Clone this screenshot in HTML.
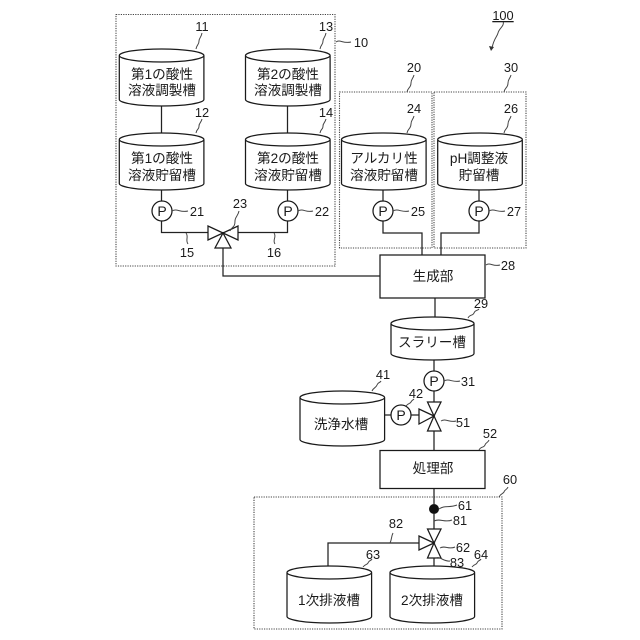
<!DOCTYPE html>
<html><head><meta charset="utf-8"><style>
html,body{margin:0;padding:0;background:#fff}
svg{display:block}
text{fill:#1a1a1a;text-anchor:middle}
.j{font-family:"Liberation Sans","Noto Sans CJK JP",sans-serif;font-size:13.6px}
.n{font-family:"Liberation Sans",sans-serif;font-size:12.8px}
.p{font-family:"Liberation Sans",sans-serif;font-size:14px}
.l{fill:none;stroke:#222;stroke-width:1.25}
.d{fill:none;stroke:#444;stroke-width:1.1;stroke-dasharray:1.2 1.2}
.c{fill:#fff;stroke:#1a1a1a;stroke-width:1.25}
.w{fill:none;stroke:#444;stroke-width:1}
</style></head><body>
<svg width="640" height="640" viewBox="0 0 640 640" xmlns="http://www.w3.org/2000/svg">
<defs>
<g id="cy"><path class="c" d="M0 6.5V50.5A42.3 6.5 0 0 0 84.6 50.5V6.5A42.3 6.5 0 0 0 0 6.5A42.3 6.5 0 0 0 84.6 6.5"/></g>
<g id="cy2"><path class="c" d="M0 6.5V48.5A42.3 6.5 0 0 0 84.6 48.5V6.5A42.3 6.5 0 0 0 0 6.5A42.3 6.5 0 0 0 84.6 6.5"/></g>
<g id="cy3"><path class="c" d="M0 6.5V36.5A41.5 6.5 0 0 0 83 36.5V6.5A41.5 6.5 0 0 0 0 6.5A41.5 6.5 0 0 0 83 6.5"/></g>
</defs>
<rect class="d" x="116" y="14.5" width="219" height="251.5"/>
<rect class="d" x="339.5" y="92" width="92.5" height="156"/>
<rect class="d" x="434" y="92" width="92" height="156"/>
<rect class="d" x="254" y="497" width="248" height="132"/>

<path class="l" d="M161.5 106V133M287.5 106V133M161.5 190V201M287.5 190V201M161.5 221V232.5H208M287.5 221V232.5H238M223 248V276H380"/>
<path class="l" d="M383 190V201M383 221V233H422V255M479 190V201M479 221V233H441V255M435 298V318M434 360V371M434 391V402M434 431V450M434 488V504M434 514V529M434 558V566M384 415H391M411 415H419M419 543H328V566"/>

<use href="#cy" x="119.3" y="49"/><use href="#cy" x="245.5" y="49"/>
<use href="#cy" x="119.3" y="133"/><use href="#cy" x="245.5" y="133"/>
<use href="#cy" x="341.5" y="133"/><use href="#cy" x="437.7" y="133"/>
<use href="#cy3" x="391" y="317"/>
<use href="#cy2" x="300" y="391"/>
<use href="#cy" x="287" y="566"/><use href="#cy" x="390" y="566"/>

<rect class="c" x="380" y="255" width="105" height="43"/>
<rect class="c" x="380" y="450.5" width="105" height="38"/>

<g class="c">
<circle class="c" cx="162" cy="211" r="10"/><circle class="c" cx="288" cy="211" r="10"/>
<circle class="c" cx="383" cy="211" r="10"/><circle class="c" cx="479" cy="211" r="10"/>
<circle class="c" cx="434" cy="381" r="10"/><circle class="c" cx="401" cy="415" r="10"/>
<path d="M223 233L208 226V240ZM223 233L238 226V240ZM223 233L215 248H231Z"/>
<path d="M434 416L427.5 402H441ZM434 416L427.5 431H441ZM434 416L419 409V424Z"/>
<path d="M434 543L427.5 529H441ZM434 543L427.5 558H441ZM434 543L419 536V550Z"/>
</g>
<circle cx="434" cy="509" r="5" fill="#111"/>

<g class="w">
<path d="M196 49C197 44 199 45 199 41C199 38 201 38 202 33"/>
<path d="M320 49C321 44 323 45 323 41C323 38 325 38 326 33"/>
<path d="M196 133C197 128 199 130 199 126C199 123 201 123 202 119"/>
<path d="M320 133C321 128 323 130 323 126C323 123 325 123 326 119"/>
<path d="M336 42C340 39 343 44 351 42"/>
<path d="M172 211C177 208 180 213 188 211"/>
<path d="M298 211C303 208 306 213 313 211"/>
<path d="M230 231C232 226 235 228 235 221C235 217 238 216 239 211"/>
<path d="M186 233C189 237 185 240 188 244"/>
<path d="M274 233C277 237 272 240 275 244"/>
<path d="M407 92C408 87 411 88 411 83C411 79 413 79 414 75"/>
<path d="M504 92C505 87 508 88 508 83C508 79 510 79 511 75"/>
<path d="M407 133C408 128 411 129 411 124C411 120 413 120 414 116"/>
<path d="M504 133C505 128 508 129 508 124C508 120 510 120 511 116"/>
<path d="M393 211C398 208 402 213 409 211"/>
<path d="M489 211C494 208 498 213 505 211"/>
<path d="M486 265C490 262 493 267 500 265"/>
<path d="M468 318C470 314 473 316 474 313C475 310 477 311 479 309"/>
<path d="M444 381C449 378 453 383 460 381"/>
<path d="M372 391C374 387 376 388 377 385C378 382 380 383 381 381"/>
<path d="M406 406C408 403 410 404 411 402C412 400 413 400 414 399"/>
<path d="M441 421C446 418 450 423 456 421"/>
<path d="M479 450C481 446 484 448 485 445C486 442 488 443 489 440"/>
<path d="M499 497C501 493 503 494 504 492C505 489 507 490 508 487"/>
<path d="M439 509C445 505 449 508 457 505"/>
<path d="M434 521C440 518 445 523 452 520"/>
<path d="M390 543C392 539 391 537 393 533"/>
<path d="M440 548C445 545 449 550 455 547"/>
<path d="M436 558C440 556 444 562 450 561"/>
<path d="M363 567C365 564 367 565 368 563C369 560 371 561 372 559"/>
<path d="M472 567C474 564 476 565 477 563C478 560 480 561 481 559"/>
</g>
<path class="w" d="M503 21C505 26 499 28 498 33C497 37 494 38 492 48"/>
<path d="M489 46L491 51L494 47Z" fill="#333"/>

<g class="j">
<text x="162" y="79">第1の酸性</text><text x="162" y="95">溶液調製槽</text>
<text x="288" y="79">第2の酸性</text><text x="288" y="95">溶液調製槽</text>
<text x="162" y="163">第1の酸性</text><text x="162" y="180">溶液貯留槽</text>
<text x="288" y="163">第2の酸性</text><text x="288" y="180">溶液貯留槽</text>
<text x="384" y="163">アルカリ性</text><text x="384" y="180">溶液貯留槽</text>
<text x="479" y="163">pH調整液</text><text x="479" y="180">貯留槽</text>
<text x="433" y="281">生成部</text>
<text x="432" y="347">スラリー槽</text>
<text x="341" y="429">洗浄水槽</text>
<text x="433" y="473">処理部</text>
<text x="329" y="605">1次排液槽</text>
<text x="432" y="605">2次排液槽</text>
</g>
<g class="p">
<text x="162" y="216">P</text><text x="288" y="216">P</text><text x="383" y="216">P</text><text x="479" y="216">P</text><text x="434" y="386">P</text><text x="401" y="420">P</text>
</g>
<g class="n">
<text x="202" y="31">11</text><text x="326" y="31">13</text><text x="202" y="117">12</text><text x="326" y="117">14</text>
<text x="361" y="47">10</text><text x="197" y="216">21</text><text x="322" y="216">22</text><text x="240" y="208">23</text>
<text x="187" y="257">15</text><text x="274" y="257">16</text>
<text x="414" y="72">20</text><text x="511" y="72">30</text><text x="414" y="113">24</text><text x="511" y="113">26</text>
<text x="418" y="216">25</text><text x="514" y="216">27</text><text x="508" y="270">28</text><text x="481" y="308">29</text>
<text x="503" y="20" text-decoration="underline">100</text>
<text x="468" y="386">31</text><text x="416" y="398">42</text><text x="383" y="379">41</text><text x="463" y="427">51</text><text x="490" y="438">52</text><text x="510" y="484">60</text>
<text x="465" y="510">61</text><text x="460" y="525">81</text><text x="396" y="528">82</text><text x="463" y="552">62</text><text x="457" y="567">83</text><text x="373" y="559">63</text><text x="481" y="559">64</text>
</g>
</svg>
</body></html>
